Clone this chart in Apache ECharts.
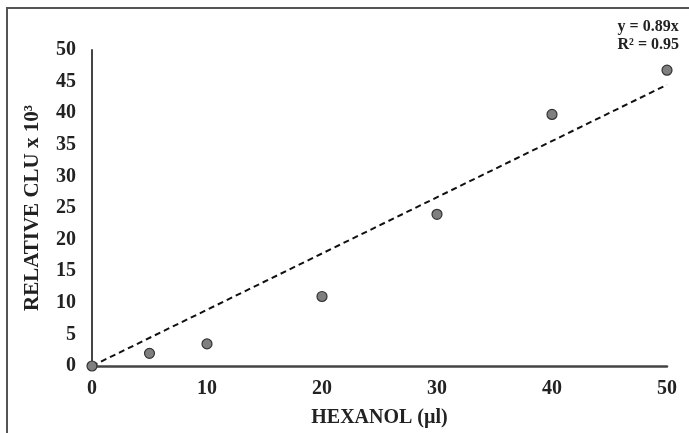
<!DOCTYPE html>
<html>
<head>
<meta charset="utf-8">
<script src="https://cdn.jsdelivr.net/npm/echarts@6/dist/echarts.min.js"></script>
<style>
  html, body { margin: 0; padding: 0; background: #fff; }
  #chart { width: 689px; height: 433px; }
</style>
</head>
<body>
<div id="chart"></div>
<script>
// measured points
var hexanol = [0, 5, 10, 20, 30, 40, 50];
var clu = [0, 2, 3.5, 11, 24, 39.8, 46.8];
// linear fit through origin, y = 0.89x
var trendX = [0, 50];
var trendY = [0, 44.5];
var fitLabels = ['y = 0.89x', 'R² = 0.95'];

var font = '"Liberation Serif", "Times New Roman", serif';
var chart = echarts.init(document.getElementById('chart'));

chart.setOption({
    animation: false,
    grid: { left: 92, right: 22, top: 50, bottom: 58 },
    graphic: [
        {
            type: 'rect',
            shape: { x: 7, y: 8, width: 720, height: 460 },
            style: { fill: 'none', stroke: '#555', lineWidth: 2 }
        },
        {
            type: 'text',
            right: 10, top: 18,
            style: {
                text: fitLabels.join('\n'),
                font: 'bold 16px ' + font,
                fill: '#222',
                align: 'right',
                lineHeight: 18
            }
        }
    ],
    xAxis: {
        type: 'value',
        min: 0, max: 50, interval: 10,
        name: 'HEXANOL (µl)',
        nameLocation: 'middle',
        nameGap: 42,
        nameTextStyle: { fontFamily: font, fontWeight: 'bold', fontSize: 20, color: '#222' },
        axisLine: { lineStyle: { color: '#444', width: 2.5 } },
        axisTick: { show: false },
        splitLine: { show: false },
        axisLabel: { fontFamily: font, fontWeight: 'bold', fontSize: 20, color: '#222', margin: 13 }
    },
    yAxis: {
        type: 'value',
        min: 0, max: 50, interval: 5,
        name: 'RELATIVE CLU x 10³',
        nameLocation: 'middle',
        nameGap: 49,
        nameTextStyle: { fontFamily: font, fontWeight: 'bold', fontSize: 21, color: '#222' },
        axisLine: { show: true, lineStyle: { color: '#444', width: 2 } },
        axisTick: { show: false },
        splitLine: { show: false },
        axisLabel: { fontFamily: font, fontWeight: 'bold', fontSize: 20, color: '#222', margin: 16 }
    },
    series: [
        {
            type: 'line',
            data: trendX.map(function (x, i) { return [x, trendY[i]]; }),
            showSymbol: false,
            lineStyle: { color: '#111', width: 2, type: [6, 4] },
            z: 1
        },
        {
            type: 'scatter',
            data: hexanol.map(function (x, i) { return [x, clu[i]]; }),
            symbolSize: 10,
            itemStyle: { color: '#7f7f7f', borderColor: '#333', borderWidth: 1.2, opacity: 1 },
            z: 3
        }
    ]
});
</script>
</body>
</html>
